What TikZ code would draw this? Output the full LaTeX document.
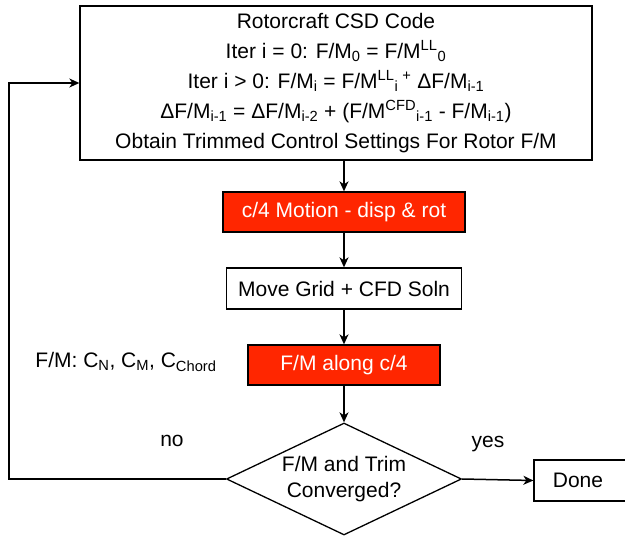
\documentclass[tikz,border=0pt]{standalone}
\usepackage{fontspec}
\setmainfont{Liberation Sans}
\usetikzlibrary{shapes.geometric,arrows.meta}
\definecolor{cfdred}{RGB}{255,38,0}
\tikzset{
	box/.style 2 args={draw,line width=1.3pt,minimum width=#1,minimum height=#2,inner sep=0pt,align=center,font=\fontsize{21}{30}\selectfont},
	redbox/.style 2 args={box={#1}{#2},fill=cfdred,text=white},
	decision/.style={draw,diamond,line width=1.3pt,minimum width=235pt,minimum height=112pt,aspect=2.1,inner sep=0pt,align=center,font=\fontsize{21}{26}\selectfont},
	tag/.style={inner sep=0pt,font=\fontsize{21}{26}\selectfont},
	line/.style={line width=1.5pt,-{Stealth[length=10pt,width=9pt,inset=3pt]}}
}
\begin{document}
\begin{tikzpicture}[x=1pt,y=-1pt]%[scale=1.5]
	\useasboundingbox (0,0) rectangle (625,538);
	\node [box={512pt}{154pt}] (main) at (336,83) {Rotorcraft CSD Code\\
		Iter i = 0: F/M\textsubscript{0} = F/M\textsuperscript{LL}\textsubscript{0}\\
		Iter i > 0: F/M\textsubscript{i} = F/M\textsuperscript{LL}\textsubscript{i}\textsuperscript{ +} ΔF/M\textsubscript{i-1}\\
		ΔF/M\textsubscript{i-1} = ΔF/M\textsubscript{i-2} + (F/M\textsuperscript{CFD}\textsubscript{i-1} - F/M\textsubscript{i-1})\\
		Obtain Trimmed Control Settings For Rotor F/M};
	\node [redbox={242pt}{40pt}] (motion) at (344,212) {c/4 Motion - disp \& rot};
	\node [box={235pt}{41pt}] (grid) at (344,288.5) {Move Grid + CFD Soln};
	\node [redbox={192pt}{40pt}] (loads) at (344,365) {F/M along c/4};
	\node [decision] (check) at (344,479) {F/M and Trim\\Converged?};
	\node [box={100pt}{41pt}] (done) at (584,480.5) {\hspace*{-12pt}Done};

	\node [tag] (coeffs) at (126,362) {F/M: C\textsubscript{N}, C\textsubscript{M}, C\textsubscript{Chord}};
	\node [tag] (no) at (172,441) {no};
	\node [tag] (yes) at (488,444) {yes};

	\coordinate (back1) at (9,479);
	\coordinate (back2) at (9,83);

	\draw [line] (main.south -| motion.north) -- (motion.north);
	\draw [line] (motion) -- (grid);
	\draw [line] (grid) -- (loads);
	\draw [line] (loads) -- (check);
	\draw [line] (check.east) -- (done.west);
	\draw [line] (check.west) -- (back1) -- (back2) -- (main.west);
\end{tikzpicture}
\end{document}
